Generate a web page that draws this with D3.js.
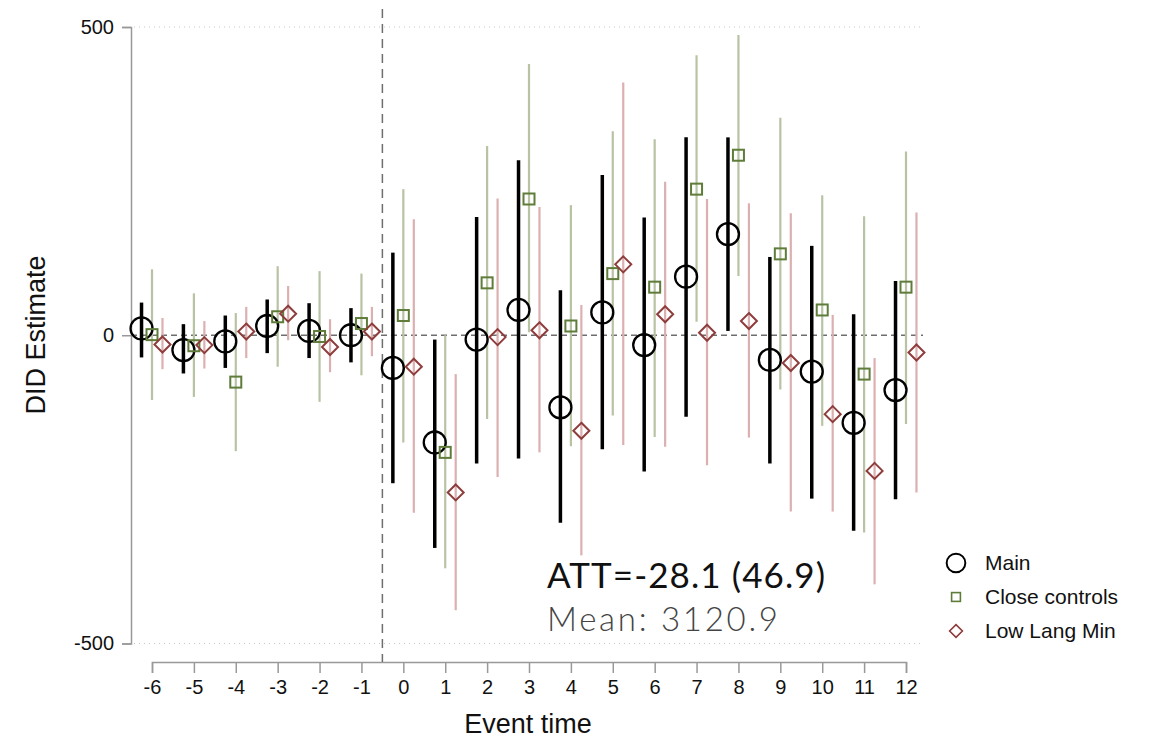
<!DOCTYPE html>
<html>
  <head>
    <meta charset="utf-8">
    <title>DID event study</title>
    <style>
      body { margin: 0; background: #fff; }
      svg { display: block; }
    </style>
  </head>
  <body>
    <script src="https://cdn.jsdelivr.net/npm/d3@7"></script>
    <script>
      const eventTimes = [-6, -5, -4, -3, -2, -1, 0, 1, 2, 3, 4, 5, 6, 7, 8, 9, 10, 11, 12];
      const yTicks = [-500, 0, 500];

      // point estimate, lower, upper
      const mainEst = [11, -24, -10, 15, 7, 0, -53, -174, -7, 41, -117, 37, -16, 95, 164, -40, -59, -142, -89];
      const mainLo = [-36, -62, -53, -29, -37, -44, -240, -345, -208, -200, -304, -185, -221, -132, 7, -208, -265, -317, -266];
      const mainHi = [53, 18, 32, 58, 52, 44, 134, -7, 192, 284, 73, 260, 191, 321, 321, 127, 145, 34, 88];

      const closeEst = [1, -17, -76, 30, -2, 19, 32, -190, 85, 221, 15, 100, 78, 237, 292, 132, 41, -63, 78];
      const closeLo = [-105, -100, -188, -51, -108, -65, -174, -378, -136, 5, -180, -130, -165, 22, 96, -88, -147, -320, -144];
      const closeHi = [107, 68, 36, 112, 104, 100, 237, 0, 307, 440, 211, 331, 318, 454, 487, 353, 227, 193, 298];

      const lowEst = [-15, -16, 6, 35, -19, 6, -51, -255, -3, 8, -155, 115, 34, 4, 23, -45, -128, -220, -28];
      const lowLo = [-55, -54, -37, -8, -60, -34, -288, -446, -230, -190, -357, -178, -181, -211, -166, -286, -286, -404, -255];
      const lowHi = [28, 23, 46, 80, 26, 46, 188, -63, 222, 208, 49, 410, 249, 221, 214, 198, 33, -37, 199];

      const W = 1154, H = 740;
      const svg = d3.select("body").append("svg").attr("width", W).attr("height", H);

      const x = d3.scaleLinear().domain([-6, 12]).range([152, 906]);
      const y = d3.scaleLinear().domain([-500, 500]).range([643.5, 27]);

      const font = "'Liberation Sans', Arial, sans-serif";

      // dotted gridlines at +-500
      svg.selectAll(".grid")
        .data([-500, 500])
        .enter()
        .append("line")
        .attr("x1", 134).attr("x2", 923)
        .attr("y1", d => y(d)).attr("y2", d => y(d))
        .attr("stroke", "#c8c8c8")
        .attr("stroke-width", 1)
        .attr("stroke-dasharray", "1,4");

      // zero line
      svg.append("line")
        .attr("x1", 131).attr("x2", 923)
        .attr("y1", y(0)).attr("y2", y(0))
        .attr("stroke", "#6e6e6e")
        .attr("stroke-width", 1.3)
        .attr("stroke-dasharray", "6,4");

      // y axis
      const yAxis = svg.append("g")
        .attr("transform", "translate(131,0)")
        .call(d3.axisLeft(y).tickValues(yTicks).tickSize(9).tickPadding(8).tickFormat(d => String(d)));
      yAxis.select(".domain").attr("stroke", "#999").attr("stroke-width", 1.5);
      yAxis.selectAll(".tick line").attr("stroke", "#999").attr("stroke-width", 1.5);
      yAxis.selectAll("text").attr("font-family", font).attr("font-size", 20).attr("fill", "#111");

      // x axis
      const xAxis = svg.append("g")
        .attr("transform", "translate(0,662)")
        .call(d3.axisBottom(x).tickValues(eventTimes).tickSize(11).tickPadding(7).tickFormat(d => String(d)));
      xAxis.select(".domain").attr("stroke", "#999").attr("stroke-width", 1.5);
      xAxis.selectAll(".tick line").attr("stroke", "#999").attr("stroke-width", 1.5);
      xAxis.selectAll("text").attr("font-family", font).attr("font-size", 20).attr("fill", "#111");

      // treatment line
      svg.append("line")
        .attr("x1", x(-0.5)).attr("x2", x(-0.5))
        .attr("y1", 9).attr("y2", 662)
        .attr("stroke", "#6e6e6e")
        .attr("stroke-width", 1.5)
        .attr("stroke-dasharray", "9,6");

      const series = [
        { name: "Main", est: mainEst, lo: mainLo, hi: mainHi, off: -0.25, ci: "#000", ciW: 3.5, col: "#000" },
        { name: "Close controls", est: closeEst, lo: closeLo, hi: closeHi, off: 0, ci: "#b7c3a3", ciW: 2.2, col: "#5f7c3a" },
        { name: "Low Lang Min", est: lowEst, lo: lowLo, hi: lowHi, off: 0.25, ci: "#dcb0b0", ciW: 2.2, col: "#8e3c3c" }
      ];

      const drawMarker = (g, name, col) => {
        if (name === "Main") {
          g.append("circle").attr("r", 11).attr("fill", "none").attr("stroke", col).attr("stroke-width", 2.3);
        } else if (name === "Close controls") {
          g.append("rect").attr("x", -5.5).attr("y", -5.5).attr("width", 11).attr("height", 11)
            .attr("fill", "none").attr("stroke", col).attr("stroke-width", 2);
        } else {
          g.append("path").attr("d", "M0,-8L8,0L0,8L-8,0Z")
            .attr("fill", "none").attr("stroke", col).attr("stroke-width", 2);
        }
      };

      // CIs first, then markers
      series.slice().reverse().forEach(s => {
        svg.append("g").selectAll("line")
          .data(eventTimes)
          .enter()
          .append("line")
          .attr("x1", (d) => x(d + s.off)).attr("x2", (d) => x(d + s.off))
          .attr("y1", (d, i) => y(s.lo[i])).attr("y2", (d, i) => y(s.hi[i]))
          .attr("stroke", s.ci)
          .attr("stroke-width", s.ciW);
      });
      series.forEach(s => {
        eventTimes.forEach((d, i) => {
          const g = svg.append("g").attr("transform", `translate(${x(d + s.off)},${y(s.est[i])})`);
          drawMarker(g, s.name, s.col);
        });
      });

      // axis titles
      svg.append("text")
        .attr("x", 528).attr("y", 733)
        .attr("text-anchor", "middle")
        .attr("font-family", font).attr("font-size", 27).attr("fill", "#111")
        .text("Event time");
      svg.append("text")
        .attr("transform", "translate(45,335) rotate(-90)")
        .attr("text-anchor", "middle")
        .attr("font-family", font).attr("font-size", 27).attr("fill", "#111")
        .text("DID Estimate");

      // annotation
      svg.append("text")
        .attr("x", 547).attr("y", 588)
        .attr("font-family", "Lato, sans-serif").attr("font-size", 35).attr("fill", "#111")
        .attr("textLength", 278).attr("lengthAdjust", "spacing")
        .text("ATT=-28.1 (46.9)");
      svg.append("text")
        .attr("x", 547).attr("y", 631)
        .attr("font-family", "Lato, sans-serif").attr("font-weight", 300).attr("font-size", 33).attr("fill", "#444")
        .attr("textLength", 231).attr("lengthAdjust", "spacing")
        .text("Mean: 3120.9");

      // legend
      const legend = svg.append("g").attr("transform", "translate(956,563)");
      series.forEach((s, i) => {
        const g = legend.append("g").attr("transform", `translate(0,${i * 34})`);
        const m = g.append("g").attr("transform", s.name === "Main" ? "scale(0.85)" : "scale(0.8)");
        drawMarker(m, s.name, s.col);
        g.append("text")
          .attr("x", 29).attr("y", 7)
          .attr("font-family", font).attr("font-size", 21).attr("fill", "#111")
          .text(s.name);
      });
    </script>
  </body>
</html>
